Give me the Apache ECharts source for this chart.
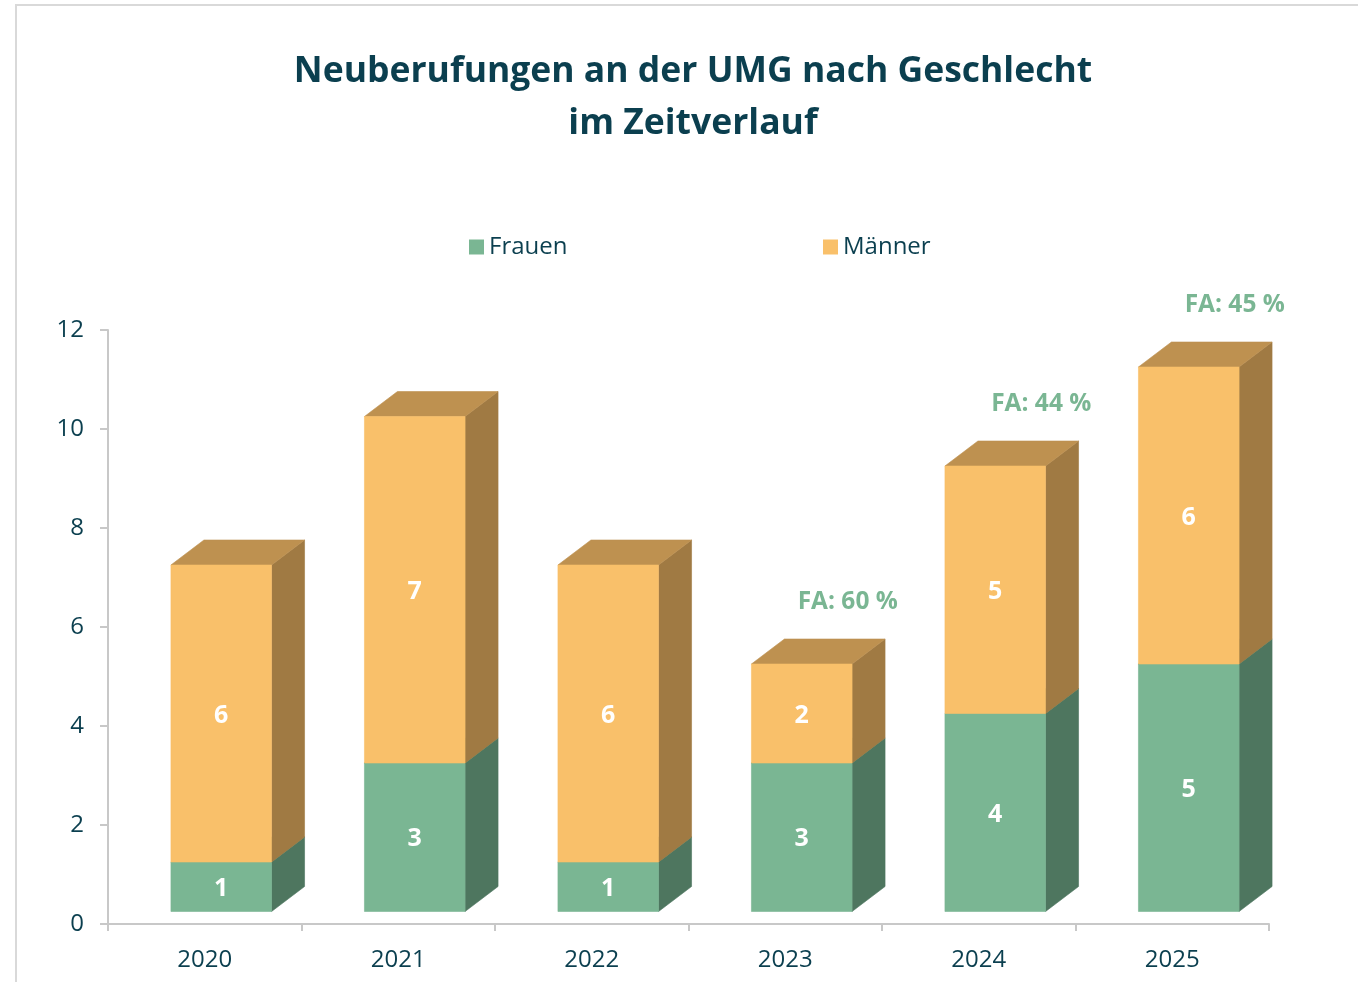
<!DOCTYPE html>
<html>
<head>
<meta charset="utf-8">
<script src="https://cdn.jsdelivr.net/npm/echarts@6/dist/echarts.min.js"></script>
<style>
    html, body { margin: 0; padding: 0; background: #fff; }
    #main { width: 1358px; height: 982px; }
</style>
</head>
<body>
<div id="main"></div>
<script>
var years = ['2020', '2021', '2022', '2023', '2024', '2025'];
var frauen = [1, 3, 1, 3, 4, 5];
var maenner = [6, 7, 6, 2, 5, 6];
var faLabels = ['', '', '', 'FA: 60 %', 'FA: 44 %', 'FA: 45 %'];

var TEXT_COLOR = '#0B3F4F';
var FONT = '"Open Sans", "Noto Sans", sans-serif';
// 3D offsets (front face shifted half the depth from the axis plane)
var DEPTH_X = 33, DEPTH_Y = 25;

function buildData(values, bases, extra) {
    return values.map(function(v, i){
        return [i, bases[i], bases[i] + v, v, extra ? extra[i] : ''];
    });
}

function face(points, color) {
    return {
        type: 'polygon',
        shape: { points: points },
        style: { fill: color, stroke: color, lineWidth: 0.6 }
    };
}

function makeRender(front, top, side) {
    return function(params, api){
        var idx = api.value(0);
        var p0 = api.coord([idx, api.value(1)]);
        var p1 = api.coord([idx, api.value(2)]);
        var w = api.size([1, 0])[0] * 0.52;
        var xl = p0[0] - w / 2 + DEPTH_X / 2;
        var xr = xl + w;
        var yb = p0[1] - DEPTH_Y / 2;
        var yt = p1[1] - DEPTH_Y / 2;
        var children = [
            face([[xr, yb], [xr + DEPTH_X, yb - DEPTH_Y], [xr + DEPTH_X, yt - DEPTH_Y], [xr, yt]], side),
            face([[xl, yt], [xl + DEPTH_X, yt - DEPTH_Y], [xr + DEPTH_X, yt - DEPTH_Y], [xr, yt]], top),
            face([[xl, yt], [xr, yt], [xr, yb], [xl, yb]], front),
            {
                type: 'text',
                style: {
                    x: (xl + xr) / 2, y: (yt + yb) / 2 + 2,
                    text: String(api.value(3)),
                    fill: '#fff', font: 'bold 25px ' + FONT,
                    align: 'center', verticalAlign: 'middle'
                }
            }
        ];
        var fa = api.value(4);
        if(fa){
            children.push({
                type: 'text',
                style: {
                    x: (xl + xr) / 2 + 46, y: yt - DEPTH_Y - 37,
                    text: fa,
                    fill: '#7AB693', font: 'bold 24.5px ' + FONT,
                    align: 'center', verticalAlign: 'middle'
                }
            });
        }
        return { type: 'group', children: children };
    };
}

var zeros = years.map(function(){ return 0; });
var myChart = echarts.init(document.getElementById('main'));
var option = {
    backgroundColor: '#fff',
    animation: false,
    graphic: [{
        type: 'rect',
        shape: { x: 16, y: 5, width: 1400, height: 1000 },
        style: { fill: 'none', stroke: '#d9d9d9', lineWidth: 2 },
        silent: true
    }],
    title: {
        text: 'Neuberufungen an der UMG nach Geschlecht\nim Zeitverlauf',
        left: 688, top: 41, textAlign: 'center',
        textStyle: {
            color: TEXT_COLOR, fontFamily: FONT, fontWeight: 'bold',
            fontSize: 35.5, lineHeight: 52
        }
    },
    legend: [{
        data: ['Frauen'], left: 464, top: 230,
        icon: 'rect', itemWidth: 15, itemHeight: 15, itemGap: 8,
        textStyle: { color: TEXT_COLOR, fontFamily: FONT, fontSize: 24 }
    }, {
        data: ['Männer'], left: 818, top: 230,
        icon: 'rect', itemWidth: 15, itemHeight: 15, itemGap: 8,
        textStyle: { color: TEXT_COLOR, fontFamily: FONT, fontSize: 24 }
    }],
    grid: { left: 108, right: 89, top: 330, bottom: 58, containLabel: false },
    xAxis: {
        type: 'category',
        data: years,
        axisLine: { lineStyle: { color: '#c8c8c8', width: 2 } },
        axisTick: { show: true, length: 7, lineStyle: { color: '#c8c8c8', width: 2 } },
        axisLabel: { color: TEXT_COLOR, fontFamily: FONT, fontSize: 24, margin: 24 }
    },
    yAxis: {
        type: 'value',
        min: 0, max: 12, interval: 2,
        splitLine: { show: false },
        axisLine: { show: true, lineStyle: { color: '#c8c8c8', width: 2 } },
        axisTick: { show: true, length: 8, lineStyle: { color: '#c8c8c8', width: 2 } },
        axisLabel: { color: TEXT_COLOR, fontFamily: FONT, fontSize: 24, margin: 24 }
    },
    series: [{
        name: 'Frauen',
        type: 'custom',
        itemStyle: { color: '#7AB693' },
        renderItem: makeRender('#7AB693', '#5E8F73', '#4E765F'),
        encode: { x: 0, y: [1, 2] },
        data: buildData(frauen, zeros)
    }, {
        name: 'Männer',
        type: 'custom',
        itemStyle: { color: '#F9C06A' },
        renderItem: makeRender('#F9C06A', '#BE9150', '#A07A43'),
        encode: { x: 0, y: [1, 2] },
        data: buildData(maenner, frauen, faLabels)
    }]
};
myChart.setOption(option);
</script>
</body>
</html>
